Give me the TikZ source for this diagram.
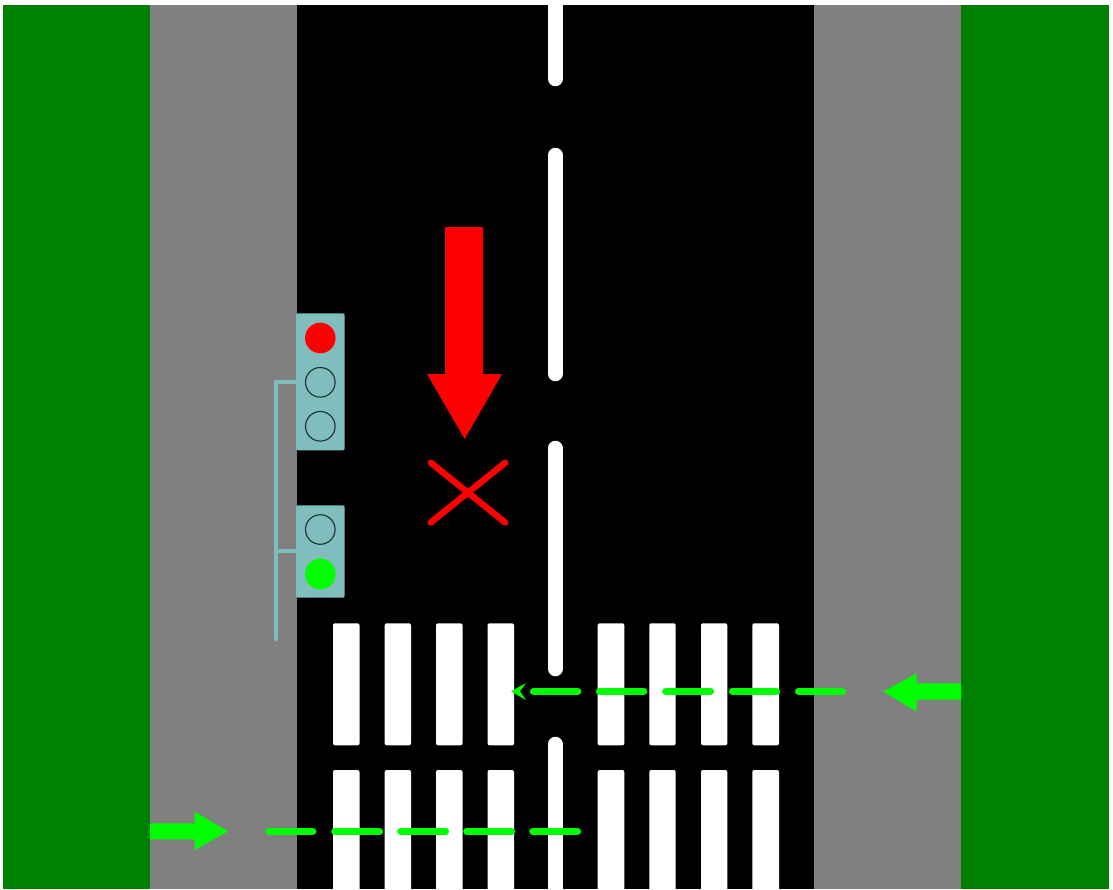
\documentclass[tikz,border=0pt]{standalone}
\definecolor{grass}{HTML}{008000}
\definecolor{walk}{HTML}{808080}
\definecolor{lime}{HTML}{00FF00}
\definecolor{signal}{RGB}{128,190,190}
\definecolor{lampoff}{RGB}{30,45,45}
\tikzset{
  band/.style={fill=#1,draw=none},
  stripe/.style={fill=white,draw=none,rounded corners=2pt},
  housing/.style={fill=signal,draw=none,rounded corners=2pt},
  lamp/.style={fill=#1,draw=none},
  lampdark/.style={draw=lampoff,line width=1.1pt,fill=none},
  centerline/.style={draw=white,line width=14.5pt,line cap=round},
  walkdash/.style={draw=lime,line width=7.2pt,line cap=round},
  pole/.style={draw=signal,line width=3.8pt},
  cross/.style={draw=red,line width=6.4pt,line cap=round},
}
\newcommand{\stripesat}[2]{%
  \foreach \xa/\xb in {333/359.5,384.7/411,436/462.5,487.5/514,597.7/624.3,649.3/675.7,701/727.3,752.3/779}
    \fill[stripe] (\xa,#1) rectangle (\xb,#2);}
\begin{document}
\begin{tikzpicture}[x=1pt,y=-1pt]
\useasboundingbox (0,0) rectangle (1113,889);
\fill[white] (0,0) rectangle (1113,889);
\begin{scope}
\clip (0,0) rectangle (1113,889);
% ground
\fill[band=grass] (3,5) rectangle (150,889);
\fill[band=walk] (150,5) rectangle (297,889);
\fill[band=black] (297,5) rectangle (814,889);
\fill[band=walk] (814,5) rectangle (961,889);
\fill[band=grass] (961,5) rectangle (1108.5,889);
% crosswalk
\stripesat{623.3}{745.3}
\stripesat{770}{900}
% centre line
\begin{scope}
\clip (0,5) rectangle (1113,889);
\foreach \ya/\yb in {-20/79,155/374,448/669,744/920}
  \draw[centerline] (555.3,\ya) -- (555.3,\yb);
\end{scope}
% signal pole
\draw[pole] (298,382) -- (275.7,382) -- (275.7,639);
\fill[signal] (273.8,639) -- (277.6,639) -- (275.7,642) -- cycle;
\draw[pole] (275.7,551.3) -- (298,551.3);
% signals
\fill[housing] (296,313.3) rectangle (344.7,450.3);
\fill[housing] (296,505.3) rectangle (344.7,597.7);
\fill[lamp=red] (320.3,338) circle (15.3);
\draw[lampdark] (320.3,382.3) circle (14.8);
\draw[lampdark] (320.3,426.3) circle (14.8);
\draw[lampdark] (320.3,529.5) circle (14.8);
\fill[lamp=lime] (320.3,574) circle (15.3);
% red arrow and cross
\fill[red] (445,227) -- (483,227) -- (483,374) -- (502,374) -- (464.7,439) -- (427,374) -- (445,374) -- cycle;
\draw[cross] (430.7,462.7) -- (505.2,522.5);
\draw[cross] (505.2,462.7) -- (430.7,522.5);
% upper pedestrian path
\foreach \xa/\xb in {533.5/577.8,599.5/643.7,665.8/710.5,732.5/776.5,798.5/842.5}
  \draw[walkdash] (\xa,691.3) -- (\xb,691.3);
\fill[lime] (511,691.3) -- (526,683) -- (520,691.3) -- (526,700) -- cycle;
\fill[lime] (961,683.3) -- (916.7,683.3) -- (916.7,673.3) -- (883.3,691.5) -- (916.7,711.7) -- (916.7,699.7) -- (961,699.7) -- cycle;
% lower pedestrian path
\foreach \xa/\xb in {268.8/312.8,334.8/379.5,400.8/445.5,466.8/511.5,532.8/577.5}
  \draw[walkdash] (\xa,831.3) -- (\xb,831.3);
\fill[lime] (150,823.3) -- (194.7,823.3) -- (194.7,811.7) -- (228,831.3) -- (194.7,850) -- (194.7,839.3) -- (150,839.3) -- cycle;
\end{scope}
\end{tikzpicture}
\end{document}
